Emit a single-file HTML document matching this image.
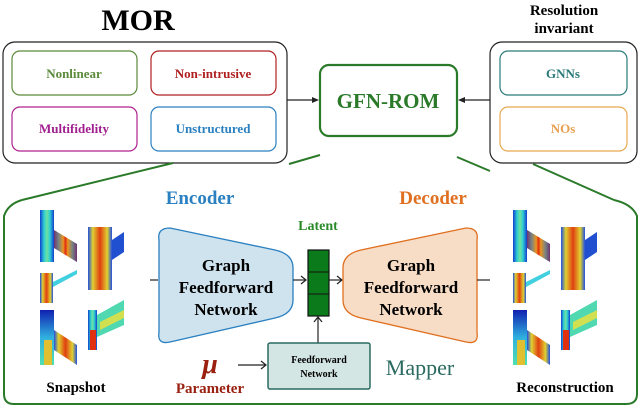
<!DOCTYPE html>
<html><head><meta charset="utf-8"><style>
html,body{margin:0;padding:0;background:#fff}
svg text{font-family:"Liberation Serif",serif}
</style></head><body>
<svg width="640" height="407" viewBox="0 0 640 407" xmlns="http://www.w3.org/2000/svg">
<defs>
<linearGradient id="jetV" x1="0" y1="0" x2="1" y2="0">
<stop offset="0" stop-color="#1030c0"/><stop offset="0.2" stop-color="#20c0e0"/><stop offset="0.4" stop-color="#f0e030"/><stop offset="0.5" stop-color="#e02010"/><stop offset="0.6" stop-color="#f0e030"/><stop offset="0.8" stop-color="#20c0e0"/><stop offset="1" stop-color="#1030c0"/>
</linearGradient>
<linearGradient id="jetC" x1="0" y1="0" x2="1" y2="0">
<stop offset="0" stop-color="#1040d0"/><stop offset="0.3" stop-color="#30d0d0"/><stop offset="0.5" stop-color="#70e0a0"/><stop offset="0.7" stop-color="#30d0d0"/><stop offset="1" stop-color="#1040d0"/>
</linearGradient>
<linearGradient id="jetR" x1="0" y1="0" x2="1" y2="0">
<stop offset="0" stop-color="#2050e0"/><stop offset="0.2" stop-color="#e0d030"/><stop offset="0.5" stop-color="#e04010"/><stop offset="0.8" stop-color="#e0d030"/><stop offset="1" stop-color="#2050e0"/>
</linearGradient>
<linearGradient id="jetB" x1="0" y1="0" x2="0" y2="1">
<stop offset="0" stop-color="#1020b0"/><stop offset="0.5" stop-color="#30b0e0"/><stop offset="1" stop-color="#50e0b0"/>
</linearGradient>
<g id="snaps">
<rect x="0" y="0" width="14" height="52" fill="url(#jetC)"/>
<polygon points="14,20 37,34 37,52 14,38" fill="url(#jetV)"/>
<polygon points="14,20 37,34 37,52 14,38" fill="#e03a10" opacity="0.45"/>
<rect x="0" y="63" width="13" height="30" fill="url(#jetR)"/>
<polygon points="13,72 37,60 37,64 13,77" fill="#40d0e0"/>
<rect x="0" y="100" width="14" height="55" fill="url(#jetB)"/>
<polygon points="14,120 37,135 37,155 14,140" fill="url(#jetR)"/>
<rect x="4" y="130" width="8" height="25" fill="#e0c030"/>
<rect x="48" y="17" width="24" height="63" fill="url(#jetR)"/>
<polygon points="72,30 84,22 84,42 72,50" fill="#2050d0"/>
<rect x="48" y="100" width="9" height="40" fill="url(#jetC)"/>
<rect x="50" y="120" width="6" height="20" fill="#e03010"/>
<polygon points="57,105 84,90 84,115 57,127" fill="#50d8b0"/>
<polygon points="60,112 84,100 84,108 60,120" fill="#d0e050"/>
</g>
</defs>

<text x="138" y="30" font-size="30" font-weight="bold" text-anchor="middle">MOR</text>
<text x="564" y="15" font-size="15" font-weight="bold" text-anchor="middle">Resolution</text>
<text x="564" y="33" font-size="15" font-weight="bold" text-anchor="middle">invariant</text>

<rect x="3" y="42" width="284" height="121" rx="12" fill="#fff" stroke="#222" stroke-width="1.2"/>
<rect x="12" y="51" width="125" height="44" rx="8" fill="#fff" stroke="#5a8a3a" stroke-width="1.2"/>
<text x="74" y="78" font-size="13" font-weight="bold" fill="#5a8a3a" text-anchor="middle">Nonlinear</text>
<rect x="151" y="51" width="125" height="44" rx="8" fill="#fff" stroke="#b02020" stroke-width="1.2"/>
<text x="213" y="78" font-size="13" font-weight="bold" fill="#b02020" text-anchor="middle">Non-intrusive</text>
<rect x="12" y="107" width="125" height="44" rx="8" fill="#fff" stroke="#b0208f" stroke-width="1.2"/>
<text x="74" y="133" font-size="13" font-weight="bold" fill="#a0208f" text-anchor="middle">Multifidelity</text>
<rect x="151" y="107" width="125" height="44" rx="8" fill="#fff" stroke="#2a80c0" stroke-width="1.2"/>
<text x="213" y="133" font-size="13" font-weight="bold" fill="#2a80c0" text-anchor="middle">Unstructured</text>

<rect x="490" y="42" width="147" height="121" rx="12" fill="#fff" stroke="#222" stroke-width="1.2"/>
<rect x="500" y="51" width="127" height="44" rx="8" fill="#fff" stroke="#2a7a7a" stroke-width="1.2"/>
<text x="563" y="78" font-size="13" font-weight="bold" fill="#2a7a7a" text-anchor="middle">GNNs</text>
<rect x="500" y="107" width="127" height="44" rx="8" fill="#fff" stroke="#e8a850" stroke-width="1.2"/>
<text x="563" y="133" font-size="13" font-weight="bold" fill="#e8a050" text-anchor="middle">NOs</text>

<rect x="320" y="65" width="137" height="71" rx="9" fill="#fff" stroke="#2a7a2a" stroke-width="2.2"/>
<text x="388" y="108" font-size="21" font-weight="bold" fill="#2a7a2a" text-anchor="middle">GFN-ROM</text>
<line x1="287" y1="100" x2="314" y2="100" stroke="#222" stroke-width="1.2"/>
<polygon points="319,100 312,97 312,103" fill="#222"/>
<line x1="490" y1="100" x2="463" y2="100" stroke="#222" stroke-width="1.2"/>
<polygon points="458,100 465,97 465,103" fill="#222"/>

<g fill="none" stroke="#2a7a2a" stroke-width="2">
<line x1="289" y1="164" x2="320" y2="155"/>
<line x1="457" y1="157" x2="490" y2="171"/>
<line x1="173" y1="163" x2="22" y2="200"/>
<line x1="533" y1="164" x2="614" y2="200"/>
<path d="M22,200 Q8,204 4,216 L4,394 Q4,404 14,404 L626,404 Q637,404 637,394 L637,216 Q632,204 614,200"/>
</g>

<text x="200" y="204" font-size="19" font-weight="bold" fill="#2a80c0" text-anchor="middle">Encoder</text>
<text x="433" y="204" font-size="19" font-weight="bold" fill="#e07020" text-anchor="middle">Decoder</text>
<text x="318" y="230" font-size="14" font-weight="bold" fill="#2a8a2a" text-anchor="middle">Latent</text>

<use href="#snaps" x="40" y="210"/>
<use href="#snaps" x="513" y="210"/>

<line x1="150" y1="280" x2="158" y2="280" stroke="#222" stroke-width="1.2"/>
<path d="M159,240 Q157,228 170,228 L275,250 Q293,254 293,268 L293,300 Q293,314 275,318 L170,342 Q157,345 159,332 Z" fill="#cfe3ef" stroke="#2a80c0" stroke-width="1.3"/>
<text x="226" y="271" font-size="17" font-weight="bold" text-anchor="middle">Graph</text>
<text x="226" y="293" font-size="17" font-weight="bold" text-anchor="middle">Feedforward</text>
<text x="226" y="315" font-size="17" font-weight="bold" text-anchor="middle">Network</text>

<line x1="293" y1="280" x2="305" y2="280" stroke="#222" stroke-width="1.2"/>
<path d="M301,276 L306,280 L301,284" fill="none" stroke="#222" stroke-width="1.2"/>
<rect x="308" y="250" width="21" height="66" fill="#0a7a1a" stroke="#111" stroke-width="1.2"/>
<line x1="308" y1="272" x2="329" y2="272" stroke="#111"/>
<line x1="308" y1="294" x2="329" y2="294" stroke="#111"/>
<line x1="329" y1="280" x2="341" y2="280" stroke="#222" stroke-width="1.2"/>
<path d="M337,276 L342,280 L337,284" fill="none" stroke="#222" stroke-width="1.2"/>

<path d="M343,268 Q343,254 361,250 L466,228 Q479,228 477,240 L477,332 Q479,345 466,342 L361,318 Q343,314 343,300 Z" fill="#f7dcc6" stroke="#e07020" stroke-width="1.3"/>
<text x="411" y="271" font-size="17" font-weight="bold" text-anchor="middle">Graph</text>
<text x="411" y="293" font-size="17" font-weight="bold" text-anchor="middle">Feedforward</text>
<text x="411" y="315" font-size="17" font-weight="bold" text-anchor="middle">Network</text>
<line x1="477" y1="280" x2="490" y2="280" stroke="#222" stroke-width="1.2"/>

<line x1="318" y1="343" x2="318" y2="318" stroke="#222" stroke-width="1.2"/>
<path d="M314,322 L318,317 L322,322" fill="none" stroke="#222" stroke-width="1.2"/>
<rect x="268" y="343" width="102" height="46" rx="2" fill="#d3e6e3" stroke="#2a6a60" stroke-width="1.5"/>
<text x="319" y="363" font-size="10" font-weight="bold" text-anchor="middle">Feedforward</text>
<text x="319" y="377" font-size="10" font-weight="bold" text-anchor="middle">Network</text>
<text x="420" y="375" font-size="22" fill="#2a6a60" text-anchor="middle">Mapper</text>

<text x="210" y="373" font-size="28" font-weight="bold" font-style="italic" fill="#9a2010" text-anchor="middle">μ</text>
<line x1="238" y1="365" x2="265" y2="365" stroke="#222" stroke-width="1.2"/>
<path d="M261,361 L266,365 L261,369" fill="none" stroke="#222" stroke-width="1.2"/>
<text x="210" y="393" font-size="15" font-weight="bold" fill="#9a2010" text-anchor="middle">Parameter</text>
<text x="76" y="392" font-size="15" font-weight="bold" text-anchor="middle">Snapshot</text>
<text x="565" y="392" font-size="15" font-weight="bold" text-anchor="middle">Reconstruction</text>
</svg>
</body></html>
